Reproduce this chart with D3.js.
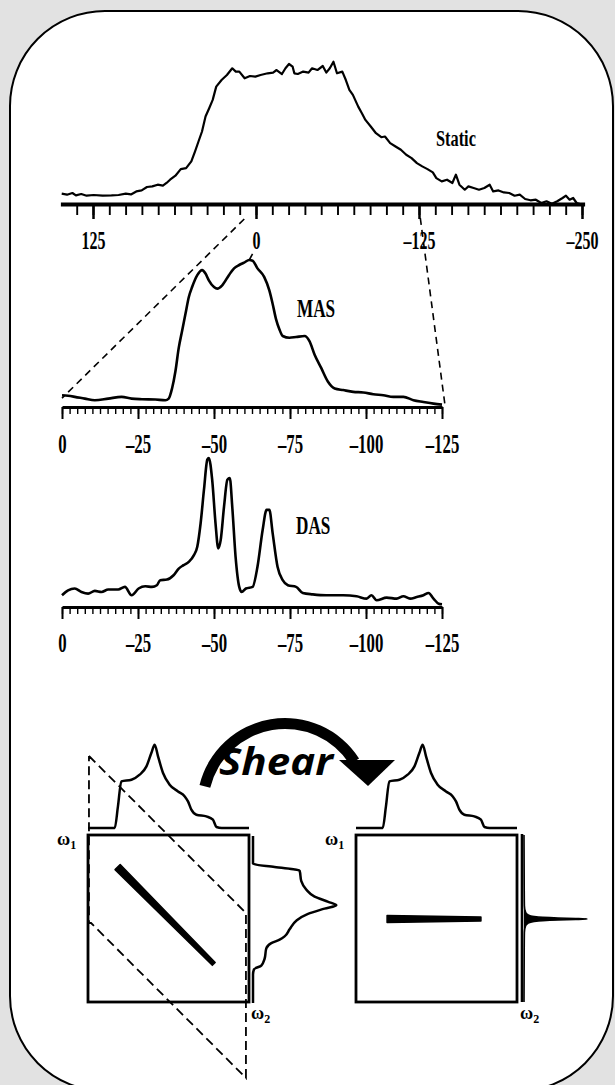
<!DOCTYPE html>
<html>
<head>
<meta charset="utf-8">
<script src="https://cdn.jsdelivr.net/npm/d3@7"></script>
<style>
  html, body { margin: 0; padding: 0; background: #e2e2e2; }
  svg { display: block; }
</style>
</head>
<body>
<svg id="fig" width="615" height="1085"></svg>
<script>
// ---------- 1D spectra (chemical shift in ppm, relative intensity) ----------
const staticShift = [149.0,144.9,140.8,138.1,134.0,129.9,124.5,117.6,110.8,105.4,
  99.9,95.9,91.8,87.7,83.6,79.5,75.4,71.4,68.6,65.9,
  61.8,57.7,53.6,49.6,46.8,44.1,41.4,38.7,35.9,33.2,
  30.5,26.4,22.3,18.2,15.5,12.8,8.7,4.6,0.5,-3.5,
  -9.0,-13.1,-15.8,-19.9,-22.6,-25.3,-28.1,-29.4,-32.1,-36.2,
  -40.3,-43.0,-47.1,-51.2,-53.9,-56.6,-59.4,-62.1,-66.2,-68.9,
  -71.6,-74.3,-78.4,-81.2,-83.9,-88.0,-92.0,-96.1,-98.9,-102.9,
  -107.0,-111.1,-115.2,-119.3,-123.4,-127.5,-131.5,-135.6,-138.3,-142.4,
  -146.5,-150.6,-153.3,-156.0,-160.1,-162.9,-166.9,-171.0,-175.1,-179.2,
  -181.9,-186.0,-190.1,-194.2,-198.3,-202.3,-206.4,-210.5,-214.6,-218.7,
  -222.8,-226.9,-231.0,-235.1,-237.7,-240.5,-243.2,-245.9,-248.6];
const staticIntensity = [7.2,6.5,7.7,6.0,7.0,5.8,6.3,5.8,6.0,6.3,
  7.2,6.7,8.8,9.5,11.9,12.3,13.5,12.8,14.7,17.0,
  19.8,24.4,25.1,29.8,36.7,43.7,50.7,61.2,67.0,72.8,
  82.1,86.7,90.2,94.9,92.6,92.6,87.9,89.5,89.1,90.2,
  91.4,91.9,93.7,90.9,94.9,97.9,96.0,91.4,90.9,92.6,
  91.9,94.9,93.7,96.5,91.9,94.9,99.5,91.4,92.6,86.7,
  79.8,76.3,68.1,63.5,58.8,54.2,49.5,46.7,47.2,42.6,
  40.2,37.9,34.4,32.1,28.6,26.3,24.4,22.1,18.1,15.8,
  17.0,14.7,20.5,13.5,10.0,12.3,11.2,10.0,11.2,13.5,
  8.8,9.5,8.1,7.7,5.8,6.5,3.5,2.6,3.0,0.7,
  1.9,0.2,1.9,4.2,5.8,3.0,4.2,0.7,0];

const masShift = [0,-2.0,-4.2,-7.5,-10.8,-15.2,-19.6,-22.9,-26.3,-30.7,
  -34.0,-35.1,-36.2,-37.3,-38.4,-39.5,-40.6,-41.7,-42.8,-44.5,
  -46.1,-47.2,-48.3,-50.0,-51.1,-52.7,-54.9,-56.6,-58.3,-59.9,
  -61.6,-62.7,-64.3,-66.5,-68.2,-69.3,-70.4,-71.5,-72.6,-74.8,
  -77.0,-79.8,-81.4,-83.1,-85.3,-87.5,-89.7,-92.5,-95.8,-99.1,
  -102.4,-105.7,-109.0,-112.3,-115.6,-118.9,-122.2,-125.0];
const masIntensity = [8.0,7.6,6.9,5.7,4.6,5.7,6.9,5.7,5.3,5.1,
  4.6,5.7,12.6,24.1,40.2,51.7,63.2,74.7,81.6,89.7,
  93.1,90.8,86.2,81.6,80.5,82.8,89.7,94.3,96.6,98.2,
  100,99.5,94.3,88.5,79.3,70.1,59.8,52.9,48.3,47.1,
  47.6,48.3,44.8,35.6,26.4,17.2,12.6,11.5,10.3,9.9,
  8.7,8.0,6.9,6.9,4.6,3.4,2.3,1.6];

const dasShift = [0,-2.0,-4.2,-6.4,-8.6,-10.8,-13.0,-15.2,-18.5,-20.7,
  -22.9,-25.2,-27.4,-29.6,-31.2,-32.3,-34.5,-36.7,-38.4,-40.0,
  -41.7,-43.4,-44.5,-45.6,-46.7,-47.8,-48.3,-49.4,-50.5,-51.4,
  -52.2,-53.3,-54.4,-55.2,-56.0,-57.1,-58.3,-59.1,-60.5,-62.7,
  -64.3,-66.0,-67.3,-68.2,-69.3,-70.9,-72.6,-74.3,-77.0,-79.2,
  -82.5,-86.9,-92.5,-96.9,-100.2,-101.8,-103.5,-106.8,-110.1,-112.3,
  -114.5,-116.7,-118.9,-120.6,-122.2,-123.9,-125.0];
const dasIntensity = [7.9,11.2,12.4,10.1,9.0,10.8,10.1,11.7,11.7,13.5,
  7.9,12.4,13.9,13.5,14.6,18.0,18.4,21.3,25.8,28.1,
  30.3,34.8,40.4,56.2,78.7,98.9,100,85.4,56.2,39.3,
  44.9,67.4,85.4,86.5,67.4,33.7,13.5,10.1,12.4,13.5,
  27.0,51.7,65.2,65.2,49.4,27.0,18.0,14.6,13.5,9.4,
  8.5,7.9,7.9,7.2,5.6,7.9,4.5,6.3,5.6,7.2,
  5.6,6.7,7.9,9.4,5.6,2.2,1.8];

// axis ticks (ppm)
const staticLabelTicks = [125, 0, -125, -250];
const spectrumLabelTicks = [0, -25, -50, -75, -100, -125];

// ---------- 2D sketch (normalised frequency units 0..100 across each square) ----------
const projPos = [0,16.6,18.6,20.7,27.0,32.1,36.3,39.4,41.4,43.5,46.6,50.7,55.9,60.1,62.1,64.2,67.3,73.5,77.6,79.8,83,100];
const projHeight = [0,0,21.6,46.6,48.3,53.3,61.6,75.3,83.3,71.6,55,43.3,36.6,31.6,26.6,18.3,13.3,11.6,8.3,1.0,0,0];
const spikePos = [0,30,42.3,46.3,47.8,48.8,49.3,49.7,50.0,50.3,50.6,50.9,51.3,51.8,52.8,54.3,58.3,70,100];
const spikeHeight = [0,0.2,0.4,1.6,4.0,10.0,18.7,34,51.9,63,51.9,34,18.7,10.0,4.0,1.6,0.4,0.2,0];
const ridgeSheared = { pos: [18.4, 78.1], freq: [19.2, 77.2] };
const ridgeIsotropic = { pos: [19.3, 77.6], freq: [50.3, 50.3] };
const shearBoxPos = [0.6, 98.1, 98.1, 1.9, 0.6, 0.6];
const shearBoxFreq = [-47.3, 46.7, 145.5, 52.7, 52.7, -47.3];

const svg = d3.select("#fig");

// rounded white panel
svg.append("rect")
  .attr("x", 10).attr("y", 11).attr("width", 603).attr("height", 1080)
  .attr("rx", 95).attr("ry", 95)
  .attr("fill", "#fff").attr("stroke", "#000").attr("stroke-width", 2);

const serif = "'Liberation Serif', 'Times New Roman', serif";
const fmt = d => d < 0 ? "\u2013" + Math.abs(d) : String(d);

function drawAxis(scale, y, minorVals, majorVals, minorLen, majorLen, opts) {
  const g = svg.append("g").attr("transform", `translate(0,${y})`);
  const minor = g.append("g").call(d3.axisBottom(scale).tickValues(minorVals)
    .tickSize(minorLen).tickSizeOuter(0).tickFormat(""));
  minor.select(".domain").attr("stroke-width", opts.lineW).attr("stroke", "#000");
  minor.selectAll(".tick line").attr("stroke-width", opts.tickW).attr("stroke", "#000");
  const major = g.append("g").call(d3.axisBottom(scale).tickValues(majorVals)
    .tickSize(majorLen).tickSizeOuter(0).tickFormat(fmt));
  major.select(".domain").remove();
  major.selectAll(".tick line").attr("stroke-width", opts.tickW + 0.6).attr("stroke", "#000");
  major.selectAll(".tick text")
    .attr("y", opts.labelY).attr("dy", 0)
    .attr("fill", "#000")
    .attr("font-family", serif).attr("font-weight", "bold")
    .attr("font-size", opts.fontSize)
    .attr("transform", `scale(${opts.squeeze},1)`);
  return g;
}

function label(x, y, text, size, squeeze) {
  svg.append("text")
    .attr("transform", `translate(${x},${y}) scale(${squeeze},1)`)
    .attr("font-family", serif).attr("font-weight", "bold")
    .attr("font-size", size).attr("fill", "#000")
    .text(text);
}

// ---------- Static ----------
const xStatic = d3.scaleLinear().domain([150, -252]).range([60.4, 584.6]);
const yStatic = d3.scaleLinear().domain([0, 100]).range([204, 61]);
drawAxis(xStatic, 204, d3.range(137.5, -251, -12.5), staticLabelTicks, 11, 15,
  { lineW: 4, tickW: 1.9, labelY: 45, fontSize: 25, squeeze: 0.64 });
svg.append("path")
  .attr("d", d3.line().x((d, i) => xStatic(staticShift[i])).y((d, i) => yStatic(d))(staticIntensity))
  .attr("fill", "none").attr("stroke", "#000").attr("stroke-width", 2.2)
  .attr("stroke-linejoin", "round");
label(436, 146, "Static", 24, 0.68);

// ---------- MAS ----------
const xMas = d3.scaleLinear().domain([0, -125]).range([62, 442]);
const yMas = d3.scaleLinear().domain([0, 100]).range([407, 260]);
drawAxis(xMas, 407, d3.range(0, -125.1, -2.5), spectrumLabelTicks, 7, 12,
  { lineW: 3, tickW: 1.4, labelY: 46, fontSize: 28, squeeze: 0.6 });
svg.append("path")
  .attr("d", d3.line().curve(d3.curveMonotoneX)
    .x((d, i) => xMas(masShift[i])).y(d => yMas(d))(masIntensity))
  .attr("fill", "none").attr("stroke", "#000").attr("stroke-width", 2.6);
label(297, 317, "MAS", 26, 0.66);

// dashed guides from the static axis to the expanded MAS range
const guide = (x1, y1, x2, y2) => svg.append("line")
  .attr("x1", x1).attr("y1", y1).attr("x2", x2).attr("y2", y2)
  .attr("stroke", "#000").attr("stroke-width", 1.6).attr("stroke-dasharray", "7,5");
guide(xStatic(9), 219, xMas(0), yMas(6));
guide(xStatic(-126), 218, xMas(-126), yMas(1));
guide(xMas(-61.6), yMas(100), xMas(-63.4), yMas(107));

// ---------- DAS ----------
const xDas = d3.scaleLinear().domain([0, -125]).range([62, 442]);
const yDas = d3.scaleLinear().domain([0, 100]).range([607, 458]);
drawAxis(xDas, 607, d3.range(0, -125.1, -2.5), spectrumLabelTicks, 7, 12,
  { lineW: 3, tickW: 1.4, labelY: 45, fontSize: 28, squeeze: 0.6 });
svg.append("path")
  .attr("d", d3.line().curve(d3.curveMonotoneX)
    .x((d, i) => xDas(dasShift[i])).y(d => yDas(d))(dasIntensity))
  .attr("fill", "none").attr("stroke", "#000").attr("stroke-width", 2.6);
label(296, 534, "DAS", 26, 0.66);

// ---------- 2D correlation sketches ----------
const hScale = d3.scaleLinear().domain([0, 100]).range([0, 100]);
const fy = d3.scaleLinear().domain([0, 100]).range([835, 1002]);
const panels = [
  { x0: 88, sideBase: 253 },
  { x0: 356, sideBase: 522 }
];

panels.forEach((p, k) => {
  const fx = d3.scaleLinear().domain([0, 100]).range([p.x0, p.x0 + 161]);
  // frame
  svg.append("rect").attr("x", fx(0)).attr("y", fy(0))
    .attr("width", fx(100) - fx(0)).attr("height", fy(100) - fy(0))
    .attr("fill", "none").attr("stroke", "#000").attr("stroke-width", 2.8);
  // top projection
  svg.append("path")
    .attr("d", d3.line().curve(d3.curveMonotoneX)
      .x((d, i) => fx(projPos[i])).y(d => 828 - hScale(d))(projHeight))
    .attr("fill", "none").attr("stroke", "#000").attr("stroke-width", 2.5);
  // side projection
  if (k === 0) {
    svg.append("path")
      .attr("d", d3.line().curve(d3.curveMonotoneY)
        .x(d => p.sideBase + hScale(d)).y((d, i) => fy(projPos[i]) + 1)(projHeight))
      .attr("fill", "none").attr("stroke", "#000").attr("stroke-width", 2.5);
  } else {
    svg.append("line").attr("x1", p.sideBase).attr("x2", p.sideBase)
      .attr("y1", fy(0) - 1).attr("y2", fy(100))
      .attr("stroke", "#000").attr("stroke-width", 2.6);
    svg.append("path")
      .attr("d", d3.line().curve(d3.curveMonotoneY)
        .x(d => p.sideBase + 2 + hScale(d)).y((d, i) => fy(spikePos[i]))(spikeHeight))
      .attr("fill", "#000").attr("stroke", "#000").attr("stroke-width", 1.6);
  }
  // ridge
  const r = k === 0 ? ridgeSheared : ridgeIsotropic;
  const x1 = fx(r.pos[0]), y1 = fy(r.freq[0]), x2 = fx(r.pos[1]), y2 = fy(r.freq[1]);
  const len = Math.hypot(x2 - x1, y2 - y1), nx = -(y2 - y1) / len, ny = (x2 - x1) / len;
  const w1 = 3.6, w2 = 2.0;
  svg.append("path")
    .attr("d", d3.line()([[x1 + nx * w1, y1 + ny * w1], [x2 + nx * w2, y2 + ny * w2],
                          [x2 - nx * w2, y2 - ny * w2], [x1 - nx * w1, y1 - ny * w1]]) + "Z")
    .attr("fill", "#000").attr("stroke", "#000").attr("stroke-width", 1.5)
    .attr("stroke-linejoin", "round");
  // axis labels
  const om = (x, y, sub) => {
    const t = svg.append("text").attr("x", x).attr("y", y)
      .attr("font-family", serif).attr("font-weight", "bold")
      .attr("font-size", 18).attr("fill", "#000");
    t.append("tspan").text("\u03c9");
    t.append("tspan").attr("font-size", 12).attr("dy", 4).text(sub);
  };
  om(fx(0) - 31, 845, "1");
  om(p.sideBase - 2, 1019, "2");

  if (k === 0) {
    svg.append("path")
      .attr("d", d3.line().x((d, i) => fx(d)).y((d, i) => fy(shearBoxFreq[i]))(shearBoxPos))
      .attr("fill", "none").attr("stroke", "#000").attr("stroke-width", 1.8)
      .attr("stroke-dasharray", "9,5");
  }
});

// ---------- shear arrow ----------
const arc = d3.arc().innerRadius(77).outerRadius(88).startAngle(-1.33).endAngle(1.0);
svg.append("path").attr("transform", "translate(285,806)").attr("d", arc())
  .attr("fill", "#000");
svg.append("path").attr("d", "M339,760 L395,760 L368,786 Z").attr("fill", "#000");
svg.append("text")
  .attr("x", 219).attr("y", 775)
  .attr("font-family", "'Open Sans', 'DejaVu Sans', sans-serif")
  .attr("font-weight", "bold").attr("font-style", "italic")
  .attr("font-size", 38).attr("textLength", 114).attr("lengthAdjust", "spacingAndGlyphs")
  .attr("fill", "#000").text("Shear");
</script>
</body>
</html>
